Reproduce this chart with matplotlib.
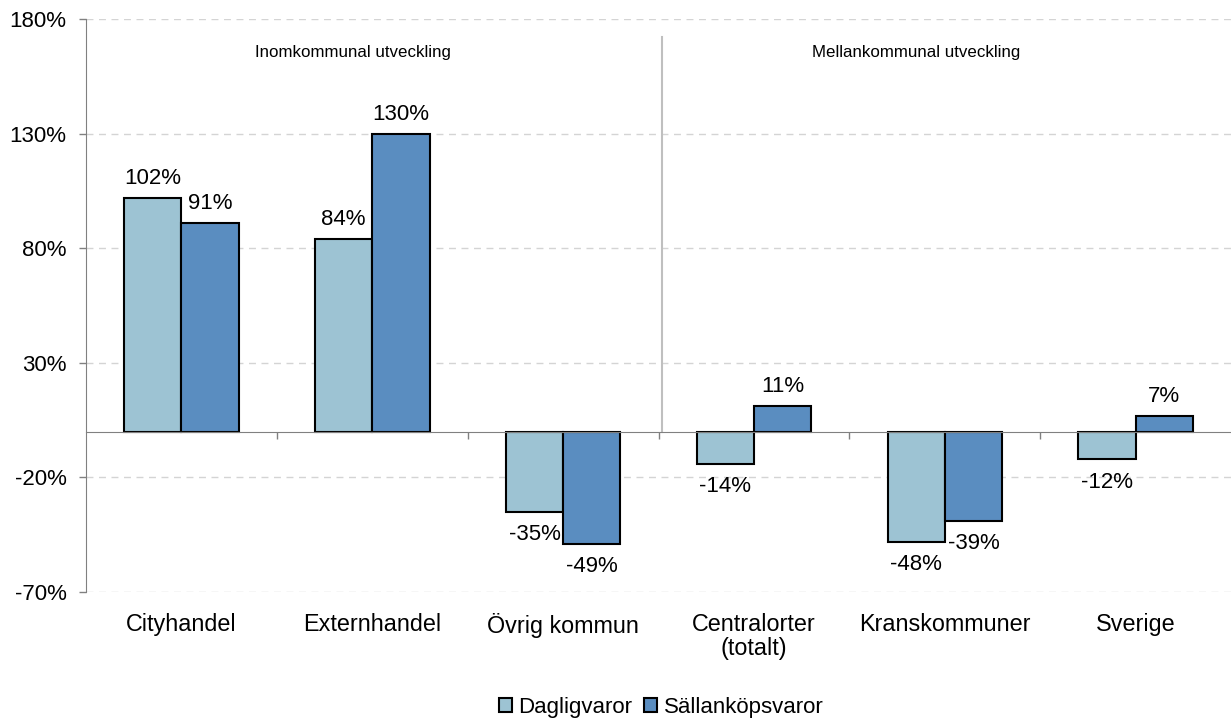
import matplotlib
matplotlib.use("Agg")
import matplotlib.pyplot as plt
from matplotlib.patches import Patch
from matplotlib.transforms import blended_transform_factory

plt.rcParams['font.family'] = ['Liberation Sans', 'DejaVu Sans']

categories = ["Cityhandel", "Externhandel", "Övrig kommun",
              "Centralorter\n(totalt)", "Kranskommuner", "Sverige"]
dagligvaror = [102, 84, -35, -14, -48, -12]
sallankop = [91, 130, -49, 11, -39, 7]
series_names = ["Dagligvaror", "Sällanköpsvaror"]
yticks = [-70, -20, 30, 80, 130, 180]
group_titles = ["Inomkommunal utveckling", "Mellankommunal utveckling"]

light = "#9DC3D3"
dark = "#5A8DC0"

fig = plt.figure(figsize=(12.31, 7.19), dpi=100)
ax = fig.add_axes([0.0699, 0.1766, 0.9301, 0.797])

x = list(range(len(categories)))
w = 0.3
b1 = ax.bar([i - w / 2 for i in x], dagligvaror, width=w, color=light,
            edgecolor="black", linewidth=1.5, zorder=3)
b2 = ax.bar([i + w / 2 for i in x], sallankop, width=w, color=dark,
            edgecolor="black", linewidth=1.5, zorder=3)

for bars, vals in ((b1, dagligvaror), (b2, sallankop)):
    for bar, v in zip(bars, vals):
        cx = bar.get_x() + bar.get_width() / 2
        if v >= 0:
            ax.annotate(f"{v}%", (cx, v), xytext=(0, 10), textcoords="offset points",
                        ha="center", va="baseline", fontsize=16, zorder=4)
        else:
            ax.annotate(f"{v}%", (cx, v), xytext=(0, -9), textcoords="offset points",
                        ha="center", va="top", fontsize=16, zorder=4)

ax.set_xlim(-0.5, len(categories) - 0.5)
ax.set_ylim(-70, 180)
ax.set_yticks(yticks)
ax.set_yticklabels([f"{t}%" for t in yticks])
ax.tick_params(axis="y", labelsize=16, length=5, width=1, color="#808080", pad=9)

# gridlines
for t in yticks:
    ax.axhline(t, color="#D4D4D4", linestyle=(0, (5, 4)), linewidth=1, zorder=1)

# category axis sits on zero with ticks at group boundaries
ax.spines["bottom"].set_position(("data", 0))
ax.spines["bottom"].set_color("#808080")
ax.spines["bottom"].set_zorder(5)
ax.spines["left"].set_color("#808080")
ax.spines["top"].set_visible(False)
ax.spines["right"].set_visible(False)
ax.set_xticks([i + 0.5 for i in x[:-1]])
ax.set_xticklabels([])
ax.tick_params(axis="x", length=5, width=1, color="#808080", direction="out")

trans = blended_transform_factory(ax.transData, ax.transAxes)
for i, c in zip(x, categories):
    ax.text(i, -0.036, c, transform=trans, ha="center", va="top",
            fontsize=16.8, linespacing=1.1)

# section divider and headings
ax.plot([2.52, 2.52], [0, 172], color="#BFBFBF", linewidth=1.5, zorder=2)
ax.text(0.9, 165.5, group_titles[0], ha="center", va="center", fontsize=12.2)
ax.text(3.85, 165.5, group_titles[1], ha="center", va="center", fontsize=12.2)

handles = [Patch(facecolor=light, edgecolor="black", linewidth=1.5),
           Patch(facecolor=dark, edgecolor="black", linewidth=1.5)]
fig.legend(handles, series_names, loc="center", bbox_to_anchor=(0.537, 0.016),
           ncol=2, frameon=False, fontsize=16, handlelength=0.6, handleheight=0.6,
           handletextpad=0.3, columnspacing=0.5, borderaxespad=0)

fig.savefig("out.png", dpi=100)
